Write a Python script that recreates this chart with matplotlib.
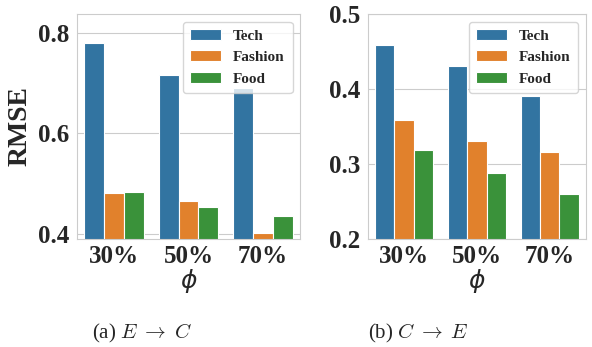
"""Grouped bar charts of RMSE for two transfer directions"""

import matplotlib
matplotlib.use("Agg")
import matplotlib.pyplot as plt
import numpy as np
import pandas as pd
import seaborn as sns

# Data
ratios = ["30%", "50%", "70%"]
domains = ["Tech", "Fashion", "Food"]

# (a) E -> C
ec_tech = [0.779, 0.717, 0.691]
ec_fashion = [0.480, 0.464, 0.401]
ec_food = [0.483, 0.453, 0.436]

# (b) C -> E
ce_tech = [0.458, 0.430, 0.390]
ce_fashion = [0.358, 0.331, 0.3155]
ce_food = [0.319, 0.2875, 0.260]

captions = [r"(a) $E\;\rightarrow\;C$", r"(b) $C\;\rightarrow\;E$"]


def make_frame(tech, fashion, food):
    """Long-form table for seaborn"""
    rows = []
    for name, vals in zip(domains, [tech, fashion, food]):
        for r, v in zip(ratios, vals):
            rows.append({"ratio": r, "domain": name, "rmse": v})
    return pd.DataFrame(rows)


sns.set_style("whitegrid")
plt.rcParams["font.family"] = ["Liberation Serif", "DejaVu Serif"]

fig = plt.figure(figsize=(5.92, 3.47), dpi=100)
ax1 = fig.add_axes([0.130, 0.311, 0.377, 0.649])
ax2 = fig.add_axes([0.621, 0.311, 0.369, 0.649])

frames = [make_frame(ec_tech, ec_fashion, ec_food),
          make_frame(ce_tech, ce_fashion, ce_food)]
limits = [(0.389, 0.838), (0.2, 0.5)]
ticks = [[0.4, 0.6, 0.8], [0.2, 0.3, 0.4, 0.5]]

for ax, df, lim, tk in zip([ax1, ax2], frames, limits, ticks):
    sns.barplot(data=df, x="ratio", y="rmse", hue="domain", ax=ax,
                edgecolor="white", linewidth=0.8)
    ax.set_ylim(*lim)
    ax.set_xlim(-0.5, 2.5)
    ax.set_yticks(tk)
    ax.set_yticklabels(["%.1f" % t for t in tk], fontsize=18, fontweight="bold")
    ax.set_xticks(range(len(ratios)))
    ax.set_xticklabels(ratios, fontsize=18, fontweight="bold")
    ax.tick_params(axis="y", pad=2)
    ax.tick_params(axis="x", pad=1)
    ax.set_xlabel(r"$\phi$", fontsize=18, fontweight="normal", labelpad=-1)
    ax.set_ylabel("")
    for s in ax.spines.values():
        s.set_color("#cccccc")
    ax.legend(loc="upper right", prop={"family": "Liberation Serif",
                                       "weight": "bold", "size": 11},
              frameon=True, borderpad=0.5, handlelength=2.0)

ax1.set_ylabel("RMSE", fontsize=20, fontweight="bold", labelpad=4)

for x, cap in zip([0.24, 0.706], captions):
    fig.text(x, 0.04, cap, ha="center", va="center", fontsize=15,
             fontweight="normal", math_fontfamily="cm")

plt.savefig("out.png", dpi=100)
